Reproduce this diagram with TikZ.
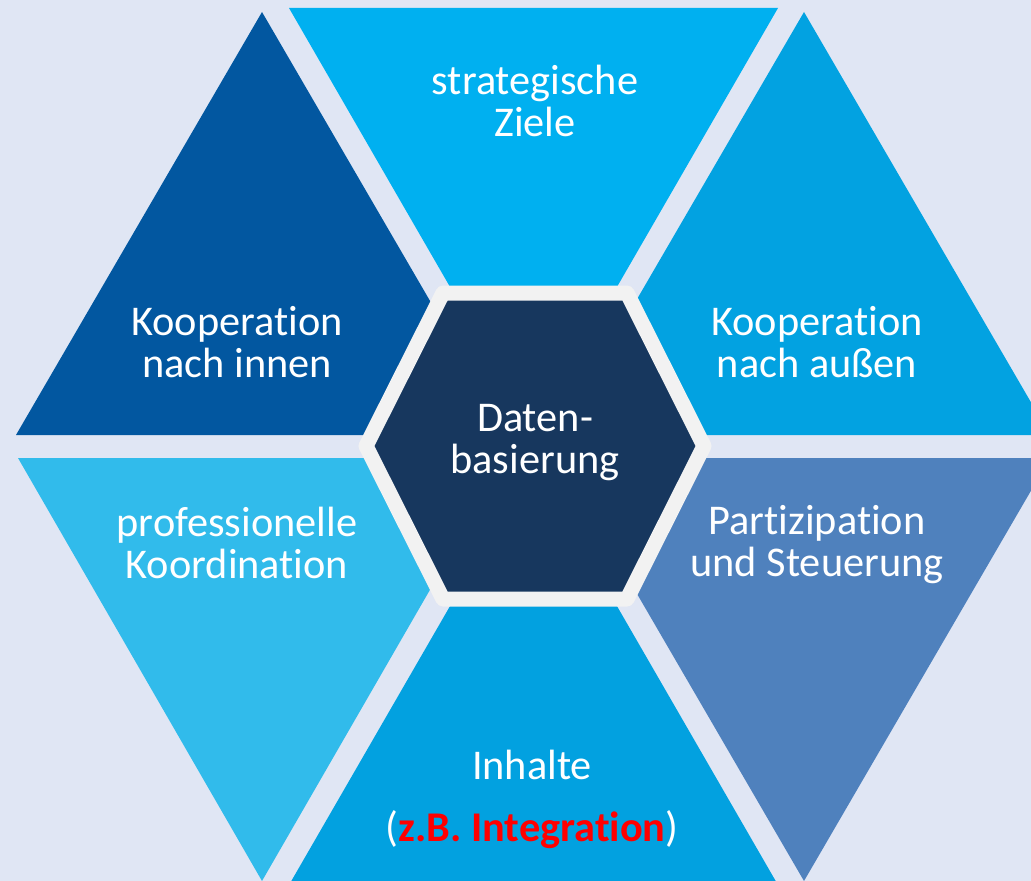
\documentclass[tikz,border=0pt]{standalone}
\usepackage{fontspec}
\setmainfont{Carlito}[Ligatures=NoCommon]

\definecolor{bgLavender}{HTML}{E0E6F4}
\definecolor{segInnen}{HTML}{0257A0}
\definecolor{segZiele}{HTML}{00B0F0}
\definecolor{segAussen}{HTML}{02A2E1}
\definecolor{segKoord}{HTML}{31BBEB}
\definecolor{segInhalte}{HTML}{02A1E0}
\definecolor{segSteuer}{HTML}{4F81BD}
\definecolor{hexNavy}{HTML}{17375E}
\definecolor{hexRim}{HTML}{F2F2F2}

\tikzset{
  lbl/.style={text=white, align=center, inner sep=0pt, font=\fontsize{31.75}{31.5}\selectfont},
}

\begin{document}
\begin{tikzpicture}[x=0.75pt,y=0.75pt,yscale=-1,xscale=1]
\useasboundingbox (0,0) rectangle (1031,881);
\clip (0,0) rectangle (1031,881);
%Background
\fill[bgLavender] (0,0) rectangle (1031,881);

%Shape: Triangle [id:kooperation innen]
\fill[segInnen] (262,12) -- (16,435) -- (508,435) -- cycle;
%Shape: Triangle [id:strategische ziele]
\fill[segZiele] (289,8) -- (778,8) -- (533.5,431.5) -- cycle;
%Shape: Triangle [id:kooperation aussen]
\fill[segAussen] (804,12) -- (558,435) -- (1050,435) -- cycle;
%Shape: Triangle [id:professionelle koordination]
\fill[segKoord] (18,458) -- (506,458) -- (262,881) -- cycle;
%Shape: Triangle [id:inhalte]
\fill[segInhalte] (533.5,461.5) -- (289,885) -- (778,885) -- cycle;
%Shape: Triangle [id:partizipation]
\fill[segSteuer] (558,458) -- (1050,458) -- (804,881) -- cycle;

%Shape: Hexagon [id:datenbasierung]
\draw[hexRim, fill=hexNavy, line width=11.25pt, line join=round] (366,446) -- (443,293) -- (627,293) -- (704,446) -- (627,599) -- (443,599) -- cycle;

% Text Node
\node[lbl] (ziele) at (535,101) {strategische\\Ziele};
% Text Node
\node[lbl] (innen) at (237,342) {Kooperation\\nach innen};
% Text Node
\node[lbl] (aussen) at (817,342) {Kooperation\\nach außen};
% Text Node
\node[lbl] (daten) at (535,443) {Daten-\\basierung};
% Text Node
\node[lbl] (koord) at (237,543) {professionelle\\Koordination};
% Text Node
\node[lbl] (steuer) at (817,545) {Partizipation\\und Steuerung};
% Text Node
\node[lbl] (inhalte) at (532,765) {Inhalte};
% Text Node
\node[lbl] (beispiel) at (532,830) {(\textcolor{red}{\textbf{z.B. Integration}})};

\end{tikzpicture}
\end{document}
